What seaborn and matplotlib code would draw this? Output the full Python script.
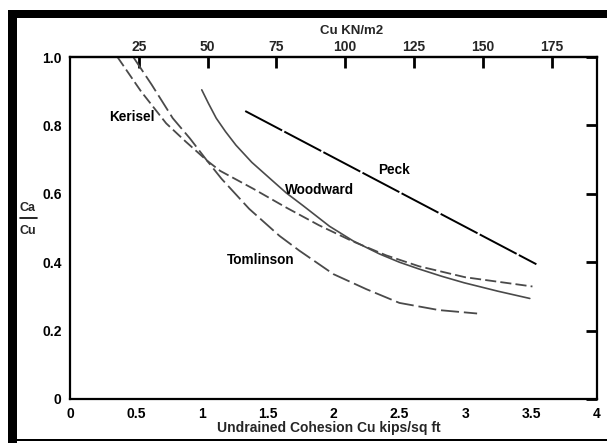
import matplotlib
matplotlib.use("Agg")
import matplotlib.pyplot as plt
from matplotlib.patches import Rectangle
from matplotlib.lines import Line2D
import numpy as np
import pandas as pd
import seaborn as sns

# Adhesion factor curves: Ca/Cu against undrained cohesion Cu (kips/sq ft)
kerisel_x = [0.36, 0.54, 0.73, 0.88, 1.04, 1.14, 1.39, 1.64, 1.89, 2.14, 2.40, 2.65, 3.00, 3.51]
kerisel_y = [1.00, 0.899, 0.806, 0.752, 0.697, 0.667, 0.615, 0.560, 0.508, 0.462, 0.420, 0.388, 0.356, 0.329]

tomlinson_x = [0.48, 0.62, 0.78, 0.91, 1.04, 1.15, 1.36, 1.59, 1.74, 2.00, 2.25, 2.50, 2.80, 3.09]
tomlinson_y = [1.00, 0.919, 0.821, 0.762, 0.697, 0.644, 0.556, 0.477, 0.434, 0.365, 0.321, 0.281, 0.260, 0.250]

woodward_x = [1.00, 1.05, 1.11, 1.18, 1.26, 1.38, 1.52, 1.64, 1.77, 1.97, 2.15, 2.35,
              2.50, 2.65, 2.82, 2.99, 3.25, 3.49]
woodward_y = [0.904, 0.865, 0.821, 0.782, 0.742, 0.692, 0.644, 0.603, 0.565, 0.505, 0.462, 0.424,
              0.400, 0.380, 0.359, 0.340, 0.315, 0.294]

peck_x = [1.33, 3.54]
peck_y = [0.842, 0.394]

x_ticks = [0, 0.5, 1, 1.5, 2, 2.5, 3, 3.5, 4]
x_tick_labels = ["0", "0.5", "1", "1.5", "2", "2.5", "3", "3.5", "4"]
y_ticks = [0, 0.2, 0.4, 0.6, 0.8, 1.0]
y_tick_labels = ["0", "0.2", "0.4", "0.6", "0.8", "1.0"]
kn_ticks = [25, 50, 75, 100, 125, 150, 175]
KN_PER_KSF = 47.88

curve_labels = {
    "Kerisel": (0.47, 0.826),
    "Woodward": (1.894, 0.612),
    "Peck": (2.46, 0.669),
    "Tomlinson": (1.447, 0.406),
}

sns.set_theme(style="white")
plt.rcParams["font.family"] = ["Liberation Sans", "DejaVu Sans"]
plt.rcParams["lines.scale_dashes"] = False

W, H = 607, 443
fig = plt.figure(figsize=(W / 100, H / 100), dpi=100)
fig.patch.set_facecolor("white")
ax = fig.add_axes([70 / W, 1 - 399 / H, (597 - 70) / W, (399 - 57) / H])
ax.set_facecolor("white")

grey = "#4a4a4a"

def draw(xs, ys, color, lw, ls):
    df = pd.DataFrame({"x": xs, "y": ys})
    sns.lineplot(data=df, x="x", y="y", ax=ax, color=color, linewidth=lw,
                 linestyle=ls, estimator=None, sort=False, legend=False)

draw(kerisel_x, kerisel_y, grey, 1.3, (0, (8.0, 3.0)))
draw(tomlinson_x, tomlinson_y, grey, 1.3, (0, (13.0, 3.5)))
draw(woodward_x, woodward_y, grey, 1.2, "-")
draw(peck_x, peck_y, "black", 1.4, (0, (30, 1.8)))

for name, (lx, ly) in curve_labels.items():
    ax.text(lx, ly, name, ha="center", va="center", fontsize=9.8,
            fontweight="bold", color="black")

ax.set_xlim(0, 4)
ax.set_ylim(0, 1.0)
ax.set_xlabel("")
ax.set_ylabel("")
ax.set_xticks(x_ticks)
ax.set_xticklabels(x_tick_labels)
ax.set_yticks(y_ticks)
ax.set_yticklabels(y_tick_labels)
ax.tick_params(axis="both", direction="in", length=8, width=2, color="black",
               labelsize=10, labelcolor="black", pad=6)
ax.tick_params(axis="y", right=True, labelright=False)
ax.tick_params(axis="x", top=False)
for lbl in ax.get_xticklabels() + ax.get_yticklabels():
    lbl.set_fontweight("bold")
for sp in ax.spines.values():
    sp.set_visible(True)
    sp.set_color("black")
    sp.set_linewidth(1.6)

# Metric scale along the top edge
sec = ax.secondary_xaxis("top", functions=(lambda v: v * KN_PER_KSF,
                                            lambda k: k / KN_PER_KSF))
sec.set_xticks(kn_ticks)
sec.set_xticklabels([str(k) for k in kn_ticks])
sec.tick_params(direction="in", length=8, width=2, color="black",
                labelsize=10, pad=2)
for lbl in sec.get_xticklabels():
    lbl.set_fontweight("bold")
sec.spines["top"].set_linewidth(1.6)

fig.text(352 / W, 1 - 31 / H, "Cu KN/m2", ha="center", va="center",
         fontsize=9.5, fontweight="bold")
fig.text(329 / W, 1 - 428 / H, "Undrained Cohesion Cu kips/sq ft",
         ha="center", va="center", fontsize=10, fontweight="bold")

# Ca / Cu fraction on the left
fig.text(28 / W, 1 - 208 / H, "Ca", ha="center", va="center",
         fontsize=9, fontweight="bold")
fig.text(28 / W, 1 - 231 / H, "Cu", ha="center", va="center",
         fontsize=9, fontweight="bold")
fig.add_artist(Line2D([20 / W, 37 / W], [1 - 218 / H, 1 - 218 / H],
                      color="black", linewidth=1.2))

# Heavy frame around the figure
fig.add_artist(Rectangle((8 / W, 0), 9 / W, 1 - 10 / H, color="black", lw=0))
fig.add_artist(Rectangle((8 / W, 1 - 18 / H), 1 - 8 / W, 8 / H, color="black", lw=0))
fig.add_artist(Rectangle((8 / W, 1 - 441 / H), 1 - 8 / W, 2 / H, color="black", lw=0))

fig.savefig("out.png", dpi=100, facecolor="white")
